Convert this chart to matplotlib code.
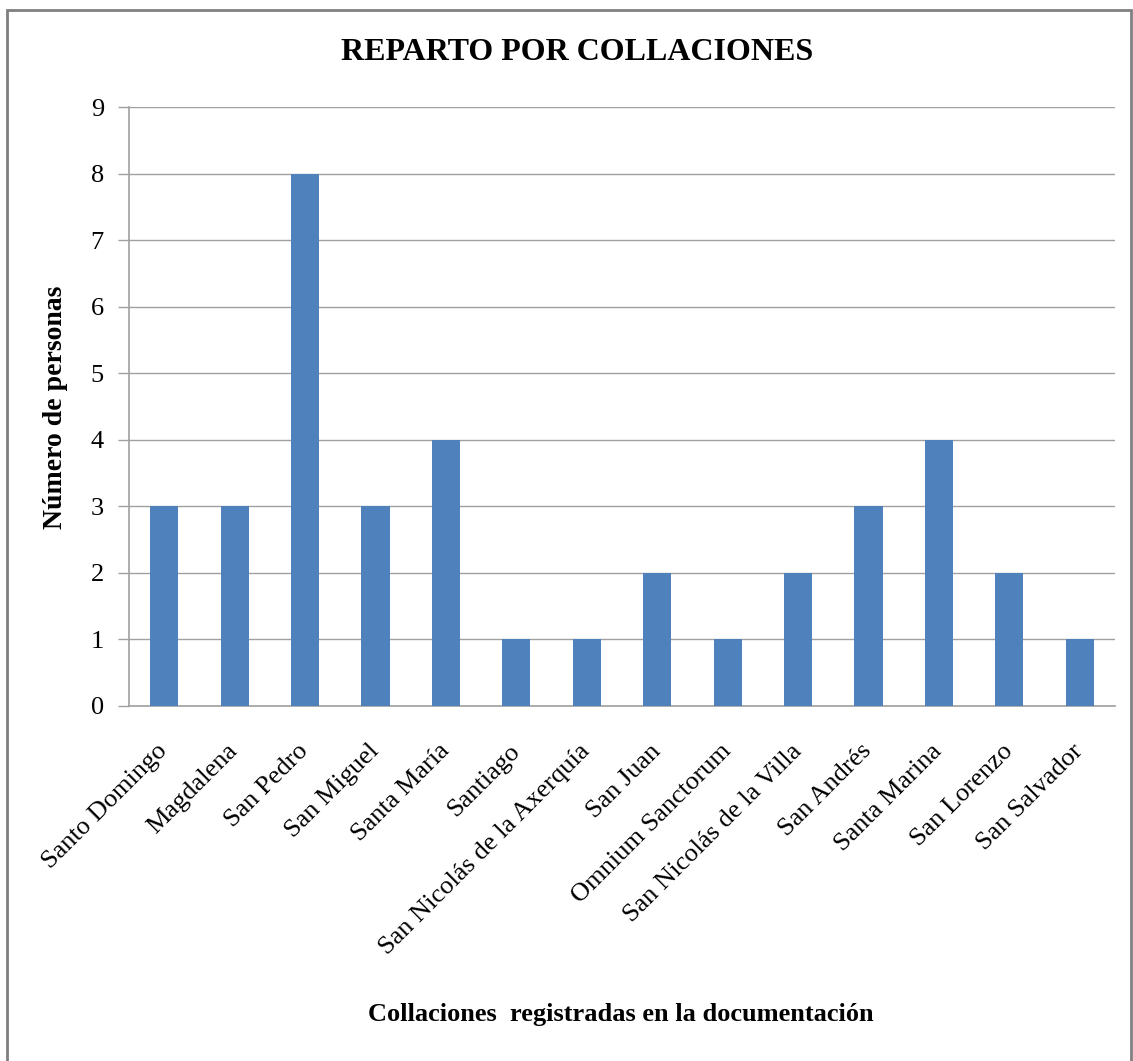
import matplotlib
matplotlib.use('Agg')
import matplotlib.pyplot as plt
from matplotlib.patches import Rectangle

# Datos del gráfico
collaciones = ['Santo Domingo', 'Magdalena', 'San Pedro', 'San Miguel',
               'Santa María', 'Santiago', 'San Nicolás de la Axerquía',
               'San Juan', 'Omnium Sanctorum', 'San Nicolás de la Villa',
               'San Andrés', 'Santa Marina', 'San Lorenzo', 'San Salvador']
personas = [3, 3, 8, 3, 4, 1, 1, 2, 1, 2, 3, 4, 2, 1]
y_ticks = list(range(0, 10))

plt.rcParams['font.family'] = ['Liberation Serif', 'DejaVu Serif']

W, H = 1133, 1061
fig = plt.figure(figsize=(W / 100, H / 100), dpi=100)
ax = fig.add_axes([129 / W, 1 - 706 / H, (1115 - 129) / W, (706 - 107) / H])

x = range(len(collaciones))
ax.bar(x, personas, width=0.4, color='#4F81BD', zorder=3)

ax.set_xlim(-0.5, len(collaciones) - 0.5)
ax.set_ylim(0, 9)
ax.set_yticks(y_ticks)
ax.set_yticklabels([str(v) for v in y_ticks], fontsize=19)
ax.set_xticks(list(x))
ax.set_xticklabels(collaciones, fontsize=19, rotation=45, ha='right',
                   va='center', rotation_mode='anchor')
ax.tick_params(axis='x', length=0, pad=30)
ax.tick_params(axis='y', length=8, width=1, color='#A0A0A0', pad=10)

ax.grid(axis='y', color='#A0A0A0', linewidth=1, zorder=0)
for side in ['top', 'right']:
    ax.spines[side].set_visible(False)
for side in ['left', 'bottom']:
    ax.spines[side].set_color('#A0A0A0')
    ax.spines[side].set_linewidth(1.2)

fig.text(577 / W, 1 - 52 / H, 'REPARTO POR COLLACIONES', fontsize=23,
         fontweight='bold', ha='center', va='center')
fig.text(621 / W, 1 - 1015 / H, 'Collaciones  registradas en la documentación',
         fontsize=19, fontweight='bold', ha='center', va='center')
fig.text(56 / W, 1 - 407 / H, 'Número de personas', fontsize=20,
         fontweight='bold', ha='center', va='center', rotation=90)

# Marco exterior
fig.patches.append(Rectangle((7 / W, -0.01), (1131 - 7) / W, 1 - 10 / H + 0.01,
                             transform=fig.transFigure, fill=False,
                             edgecolor='#808080', linewidth=2))

fig.savefig('out.png', dpi=100)
